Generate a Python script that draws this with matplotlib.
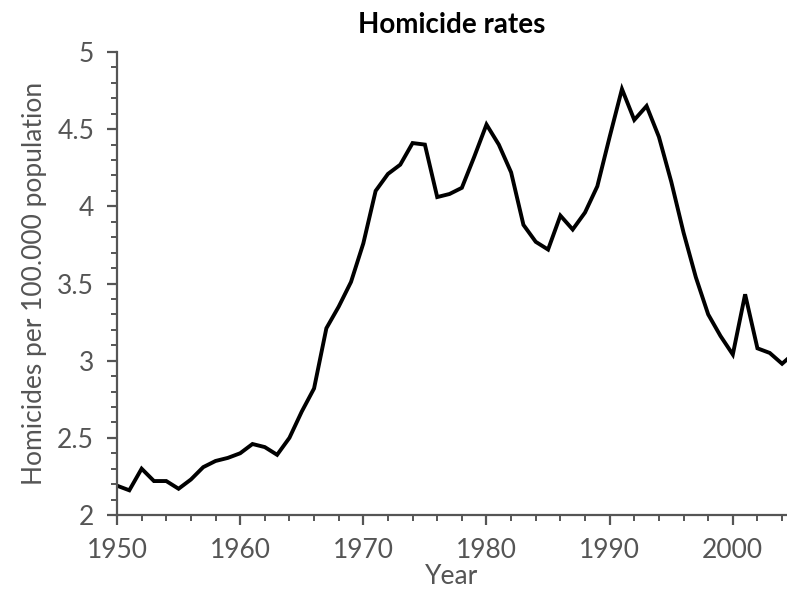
import matplotlib.pyplot as plt
from matplotlib.ticker import MultipleLocator

# data
years = list(range(1950, 2006))
rates = [2.19, 2.16, 2.30, 2.22, 2.22, 2.17, 2.23, 2.31, 2.35, 2.37,
         2.40, 2.46, 2.44, 2.39, 2.50, 2.67, 2.82, 3.21, 3.35, 3.51,
         3.76, 4.10, 4.21, 4.27, 4.41, 4.40, 4.06, 4.08, 4.12, 4.32,
         4.53, 4.40, 4.22, 3.88, 3.77, 3.72, 3.94, 3.85, 3.96, 4.13,
         4.45, 4.76, 4.56, 4.65, 4.45, 4.16, 3.83, 3.54, 3.30, 3.16,
         3.04, 3.43, 3.08, 3.05, 2.98, 3.05]

grey = '#555555'
plt.rcParams['font.family'] = ['Lato', 'DejaVu Sans']

fig = plt.figure(figsize=(7.87, 5.90), dpi=100)
ax = fig.add_axes([117 / 787, 75 / 590, 670 / 787, 463 / 590])

ax.plot(years, rates, color='black', lw=2.8, solid_joinstyle='miter')

ax.set_xlim(1950, 2004.4)
ax.set_ylim(2, 5)
ax.xaxis.set_major_locator(MultipleLocator(10))
ax.xaxis.set_minor_locator(MultipleLocator(2))
ax.yaxis.set_major_locator(MultipleLocator(0.5))
ax.yaxis.set_minor_locator(MultipleLocator(0.1))
ax.set_yticks([2, 2.5, 3, 3.5, 4, 4.5, 5], ['2', '2.5', '3', '3.5', '4', '4.5', '5'])

for side in ['top', 'right']:
    ax.spines[side].set_visible(False)
for side in ['left', 'bottom']:
    ax.spines[side].set_color(grey)
    ax.spines[side].set_linewidth(1.6)

ax.tick_params(which='major', length=7.5, width=1.6, color=grey, labelcolor=grey,
               labelsize=19)
ax.tick_params(which='minor', length=4, width=1.4, color=grey)
ax.tick_params(axis='x', which='major', pad=9)
ax.tick_params(axis='y', which='major', pad=9)

ax.set_xlabel('Year', fontsize=19, color=grey, labelpad=1)
ax.set_ylabel('Homicides per 100.000 population', fontsize=19, color=grey, labelpad=7)
ax.set_title('Homicide rates', fontsize=20, fontweight='bold', pad=14)

fig.savefig('out.png', dpi=100)
